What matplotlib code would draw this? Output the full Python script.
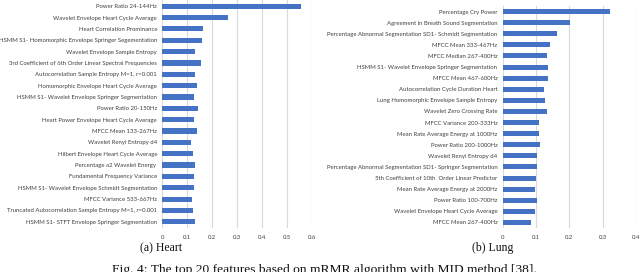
import matplotlib
matplotlib.use("Agg")
import matplotlib.pyplot as plt

heart_features = [
    "Power Ratio 24-144Hz",
    "Wavelet Envelope Heart Cycle Average",
    "Heart Correlation Prominance",
    "HSMM S1- Homomorphic Envelope Springer Segementation",
    "Wavelet Envelope Sample Entropy",
    "3rd Coefficient of 6th Order Linear Spectral Frequencies",
    "Autocorrelation Sample Entropy M=1, r=0.001",
    "Homomorphic Envelope Heart Cycle Average",
    "HSMM S1- Wavelet Envelope Springer Segmentation",
    "Power Ratio 20-150Hz",
    "Heart Power Envelope Heart Cycle Average",
    "MFCC Mean 133-267Hz",
    "Wavelet Renyi Entropy d4",
    "Hilbert Envelope Heart Cycle Average",
    "Percentage a2 Wavelet Energy ",
    "Fundamental Frequency Variance",
    "HSMM S1- Wavelet Envelope Schmidt Segmentation",
    "MFCC Variance 533-667Hz",
    "Truncated Autocorrelation Sample Entropy M=1, r=0.001",
    "HSMM S1- STFT Envelope Springer Segmentation",
]
heart_values = [0.553, 0.263, 0.163, 0.157, 0.131, 0.153, 0.132, 0.137, 0.125, 0.141,
                0.128, 0.137, 0.116, 0.124, 0.129, 0.125, 0.127, 0.119, 0.123, 0.129]

lung_features = [
    "Percentage Cry Power",
    "Agreement in Breath Sound Segmentation",
    "Percentage Abnormal Segmentation SD1- Schmidt Segmentation",
    "MFCC Mean 333-467Hz",
    "MFCC Median 267-400Hz",
    "HSMM S1- Wavelet Envelope Springer Segmentation",
    "MFCC Mean 467-600Hz",
    "Autocorrelation Cycle Duration Heart",
    "Lung Homomorphic Envelope Sample Entropy",
    "Wavelet Zero Crossing Rate",
    "MFCC Variance 200-333Hz",
    "Mean Rate Average Energy at 1000Hz",
    "Power Ratio 200-1000Hz",
    "Wavelet Renyi Entropy d4",
    "Percentage Abnormal Segmentation SD1- Springer Segmentation",
    "5th Coefficient of 10th  Order Linear Predictor",
    "Mean Rate Average Energy at 2000Hz",
    "Power Ratio 100-700Hz",
    "Wavelet Envelope Heart Cycle Average",
    "MFCC Mean 267-400Hz",
]
lung_values = [0.322, 0.201, 0.163, 0.143, 0.132, 0.135, 0.135, 0.125, 0.128, 0.133,
               0.110, 0.109, 0.111, 0.104, 0.102, 0.099, 0.098, 0.104, 0.098, 0.086]

heart_ticks = [0, 0.1, 0.2, 0.3, 0.4, 0.5, 0.6]
heart_ticklabels = ["0", "0.1", "0.2", "0.3", "0.4", "0.5", "0.6"]
lung_ticks = [0, 0.1, 0.2, 0.3, 0.4]
lung_ticklabels = ["0", "0.1", "0.2", "0.3", "0.4"]

W, H = 640, 272
fig = plt.figure(figsize=(W / 100, H / 100), dpi=100)

BAR = "#4472C4"
GRID = "#D9D9D9"
TXT = "#404040"


def panel(rect, feats, vals, ticks, ticklabels, ylim):
    x0, y0, x1, y1 = rect
    ax = fig.add_axes([x0 / W, 1 - y1 / H, (x1 - x0) / W, (y1 - y0) / H])
    pos = list(range(len(feats)))
    ax.barh(pos, vals, height=0.45, color=BAR, zorder=3)
    ax.set_ylim(*ylim)
    ax.set_xlim(ticks[0], ticks[-1])
    ax.set_yticks(pos)
    ax.set_yticklabels(feats, fontsize=4.35, color=TXT, family="Lato")
    ax.set_xticks(ticks)
    ax.set_xticklabels(ticklabels, fontsize=4.3, color=TXT, family="Lato")
    ax.tick_params(axis="y", length=0, pad=3.8)
    ax.tick_params(axis="x", length=0, pad=5)
    ax.xaxis.grid(True, color=GRID, linewidth=0.8, zorder=0)
    for s in ax.spines.values():
        s.set_visible(False)
    return ax


panel((162.3, 0, 312.3, 228), heart_features, heart_values, heart_ticks,
      heart_ticklabels, (19.55, -0.55))
panel((502.7, 6, 636, 228), lung_features, lung_values, lung_ticks,
      lung_ticklabels, (19.5, -0.5))

fig.text(161 / W, 1 - 248.5 / H, "(a) Heart", ha="center", va="center",
         fontsize=8.5, family="Liberation Serif", color="#111111")
fig.text(493 / W, 1 - 248.5 / H, "(b) Lung", ha="center", va="center",
         fontsize=8.5, family="Liberation Serif", color="#111111")
fig.text(324 / W, 1 - 270 / H,
         "Fig. 4: The top 20 features based on mRMR algorithm with MID method [38].",
         ha="center", va="center", fontsize=9.7, family="Liberation Serif", color="#111111")

fig.savefig("out.png", dpi=100)
